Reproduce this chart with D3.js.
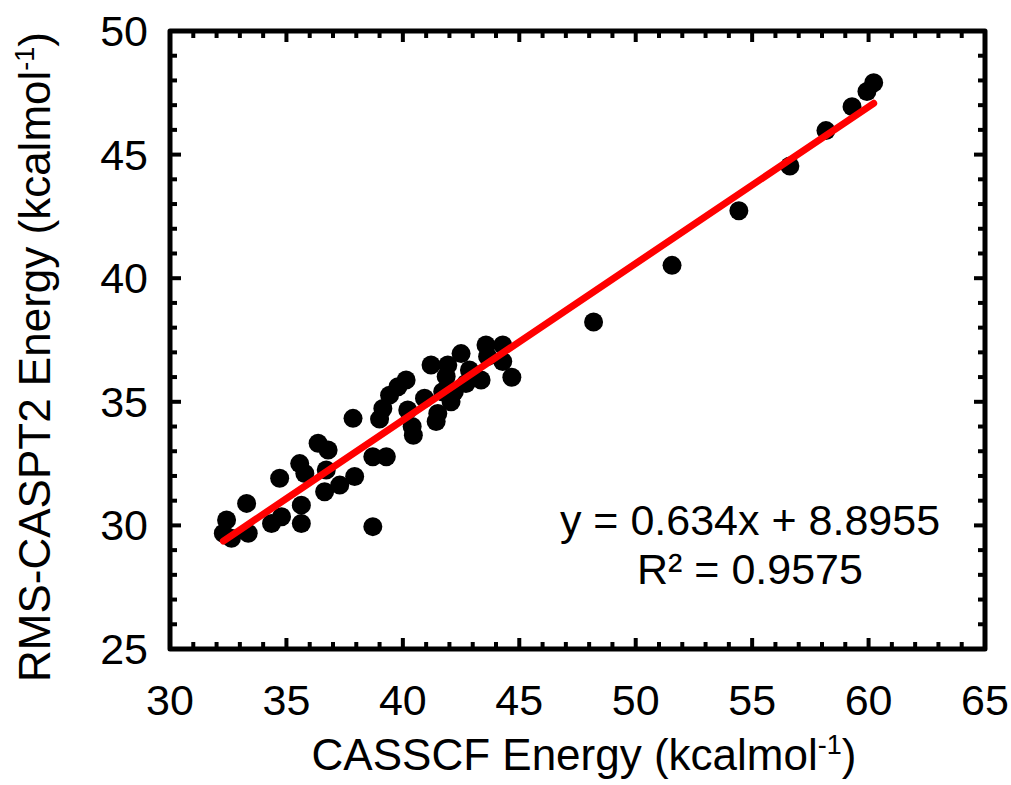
<!DOCTYPE html>
<html>
<head>
<meta charset="utf-8">
<script src="https://cdn.jsdelivr.net/npm/d3@7"></script>
<style>
  body { margin: 0; background: #fff; }
  text { font-family: "Liberation Sans", Arial, sans-serif; fill: #000; }
</style>
</head>
<body>
<div id="chart"></div>
<script>
// CASSCF energies (x) and RMS-CASPT2 energies (y), kcal/mol
const casscf = [
  32.43, 32.29, 32.64, 33.36, 33.29, 34.36, 34.79, 34.71, 35.64, 35.64,
  35.57, 35.79, 36.36, 36.79, 36.71, 36.64, 37.29, 37.93, 37.86, 38.71,
  38.71, 39.29, 39.00, 39.14, 39.43, 39.79, 40.14, 40.21, 40.40, 40.45,
  40.93, 41.21, 41.43, 41.50, 41.71, 41.93, 42.07, 42.21, 41.86, 42.50,
  42.71, 42.86, 43.36, 43.57, 43.64, 44.29, 44.29, 44.68, 48.19, 51.56,
  54.43, 56.62, 58.17, 59.29, 59.93, 60.22
];
const caspt2 = [
  30.22, 29.68, 29.48, 29.68, 30.89, 30.08, 30.35, 31.91, 30.08, 30.82,
  32.50, 32.10, 33.32, 33.05, 32.24, 31.36, 31.63, 31.98, 34.33, 29.95,
  32.78, 32.78, 34.30, 34.73, 35.27, 35.61, 35.88, 34.67, 34.00, 33.65,
  35.14, 36.49, 34.20, 34.53, 35.41, 36.49, 35.00, 35.41, 36.02, 36.95,
  35.74, 36.29, 35.88, 37.30, 36.83, 37.30, 36.63, 35.99, 38.23, 40.52,
  42.73, 44.54, 45.97, 46.94, 47.55, 47.91
];
const xTicks = [30, 35, 40, 45, 50, 55, 60, 65];
const yTicks = [25, 30, 35, 40, 45, 50];
const fit = { slope: 0.634, intercept: 8.8955 };
const eqLines = ["y = 0.634x + 8.8955", "R² = 0.9575"];

const W = 1011, H = 785;
const pL = 170, pR = 985, pT = 31, pB = 649;

const svg = d3.select("#chart").append("svg")
  .attr("width", W).attr("height", H);

const x = d3.scaleLinear().domain([30, 65]).range([pL, pR]);
const y = d3.scaleLinear().domain([25, 50]).range([pB, pT]);

const minorX = d3.range(30, 66, 1);
const minorY = d3.range(25, 51, 1);

// inward ticks on all four sides
const tickG = svg.append("g").attr("stroke", "#000").attr("stroke-width", 4);
minorX.forEach(v => {
  const len = v % 5 === 0 ? 11 : 7;
  tickG.append("line").attr("x1", x(v)).attr("x2", x(v)).attr("y1", pB).attr("y2", pB - len);
  tickG.append("line").attr("x1", x(v)).attr("x2", x(v)).attr("y1", pT).attr("y2", pT + len);
});
minorY.forEach(v => {
  const len = v % 5 === 0 ? 11 : 7;
  tickG.append("line").attr("y1", y(v)).attr("y2", y(v)).attr("x1", pL).attr("x2", pL + len);
  tickG.append("line").attr("y1", y(v)).attr("y2", y(v)).attr("x1", pR).attr("x2", pR - len);
});

svg.append("rect")
  .attr("x", pL).attr("y", pT)
  .attr("width", pR - pL).attr("height", pB - pT)
  .attr("fill", "none").attr("stroke", "#000").attr("stroke-width", 5)
  .attr("stroke-linejoin", "round");

// tick labels
svg.append("g").selectAll("text").data(xTicks).join("text")
  .attr("x", d => x(d)).attr("y", 715)
  .attr("text-anchor", "middle").attr("font-size", 43)
  .text(d => d);
svg.append("g").selectAll("text").data(yTicks).join("text")
  .attr("x", 148).attr("y", d => y(d) + 15)
  .attr("text-anchor", "end").attr("font-size", 43)
  .text(d => d);

// points
svg.append("g").selectAll("circle").data(casscf).join("circle")
  .attr("cx", d => x(d))
  .attr("cy", (d, i) => y(caspt2[i]))
  .attr("r", 9.5)
  .attr("fill", "#000");

// trendline
const [x0, x1] = d3.extent(casscf);
svg.append("line")
  .attr("x1", x(x0)).attr("y1", y(fit.slope * x0 + fit.intercept))
  .attr("x2", x(x1)).attr("y2", y(fit.slope * x1 + fit.intercept))
  .attr("stroke", "#ff0000").attr("stroke-width", 7)
  .attr("stroke-linecap", "round");

// equation
svg.append("g").selectAll("text").data(eqLines).join("text")
  .attr("x", 750).attr("y", (d, i) => 535 + i * 49)
  .attr("text-anchor", "middle").attr("font-size", 43)
  .text(d => d);

// axis titles
const xt = svg.append("text")
  .attr("x", 584).attr("y", 770)
  .attr("text-anchor", "middle").attr("font-size", 44);
xt.append("tspan").text("CASSCF Energy (kcalmol");
xt.append("tspan").attr("font-size", 27).attr("dy", -16).text("-1");
xt.append("tspan").attr("dy", 16).text(")");

const yt = svg.append("text")
  .attr("transform", "translate(50,357) rotate(-90)")
  .attr("text-anchor", "middle").attr("font-size", 44);
yt.append("tspan").text("RMS-CASPT2 Energy (kcalmol");
yt.append("tspan").attr("font-size", 27).attr("dy", -16).text("-1");
yt.append("tspan").attr("dy", 16).text(")");
</script>
</body>
</html>
